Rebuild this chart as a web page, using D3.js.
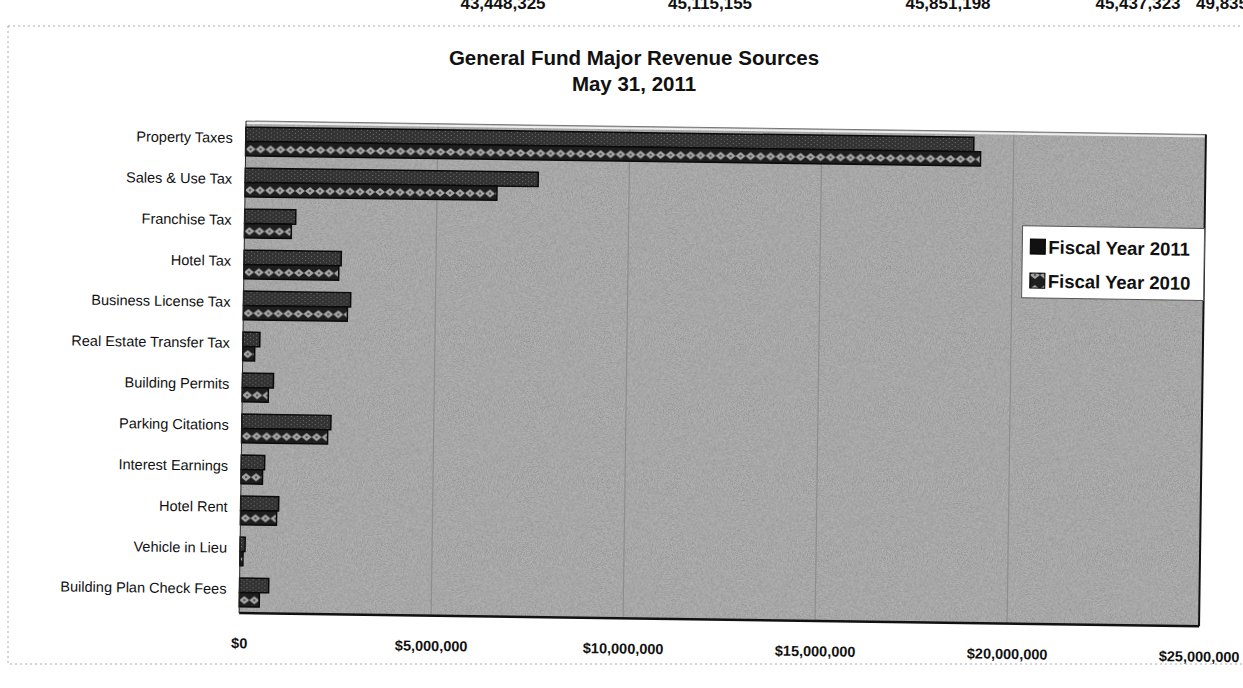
<!DOCTYPE html>
<html>
<head>
<meta charset="utf-8">
<script src="https://cdn.jsdelivr.net/npm/d3@7/dist/d3.min.js"></script>
<style>
  html, body { margin: 0; padding: 0; background: #fff; }
  svg { display: block; font-family: "Liberation Sans", Arial, sans-serif; }
</style>
</head>
<body>
<svg id="chart" width="1243" height="688"></svg>
<script>
// ---------- data ----------
const categories = [
  "Property Taxes", "Sales & Use Tax", "Franchise Tax", "Hotel Tax",
  "Business License Tax", "Real Estate Transfer Tax", "Building Permits",
  "Parking Citations", "Interest Earnings", "Hotel Rent", "Vehicle in Lieu",
  "Building Plan Check Fees"
];
const fy2011 = [18960000, 7630000, 1330000, 2530000, 2790000, 440000, 810000, 2320000, 610000, 990000, 130000, 760000];
const fy2010 = [19140000, 6560000, 1220000, 2470000, 2710000, 310000, 680000, 2240000, 560000, 940000, 80000, 520000];
const seriesNames = ["Fiscal Year 2011", "Fiscal Year 2010"];
const xTickValues = [0, 5000000, 10000000, 15000000, 20000000, 25000000];
const titleLines = ["General Fund Major Revenue Sources", "May 31, 2011"];
const topRowFragments = ["43,448,325", "45,115,155", "45,851,198", "45,437,323", "49,835"];

// ---------- layout ----------
const svg = d3.select("#chart");
const W = 1243, H = 688;
const plotW = 960, plotH = 492;
const skew = 0.8; // scan rotation (degrees)

const defs = svg.append("defs");

// background grain
const grain = defs.append("filter").attr("id", "grain").attr("x", 0).attr("y", 0).attr("width", 1).attr("height", 1);
grain.append("feTurbulence").attr("type", "fractalNoise").attr("baseFrequency", 1.2).attr("numOctaves", 1).attr("seed", 4).attr("result", "n");
grain.append("feColorMatrix").attr("in", "n").attr("type", "matrix")
  .attr("values", "0 0 0 0 0  0 0 0 0 0  0 0 0 0 0  0 0 0 1.2 -0.45");

// FY2011 fill: dark grainy
const p11 = defs.append("pattern").attr("id", "pat2011").attr("patternUnits", "userSpaceOnUse").attr("width", 6).attr("height", 4);
p11.append("rect").attr("width", 6).attr("height", 4).attr("fill", "#333");
p11.append("rect").attr("x", 1).attr("y", 1).attr("width", 1).attr("height", 1).attr("fill", "#777");
p11.append("rect").attr("x", 4).attr("y", 3).attr("width", 1).attr("height", 1).attr("fill", "#666");

// FY2010 fill: black with light diamonds
const p10 = defs.append("pattern").attr("id", "pat2010").attr("patternUnits", "userSpaceOnUse").attr("width", 10).attr("height", 14);
p10.append("rect").attr("width", 10).attr("height", 14).attr("fill", "#1e1e1e");
p10.append("path").attr("d", "M0,8 L5,4 L10,8 L5,12 Z").attr("fill", "#a8a8a8");
p10.append("circle").attr("cx", 5).attr("cy", 8).attr("r", 1.3).attr("fill", "#555");

svg.append("rect").attr("width", W).attr("height", H).attr("fill", "#fff");

// outer dotted frame of the pasted chart
svg.append("rect").attr("x", 8).attr("y", 26).attr("width", W + 20).attr("height", 638)
  .attr("fill", "none").attr("stroke", "#aaa").attr("stroke-width", 1).attr("stroke-dasharray", "2,3");

// clipped table row above the chart
const topX = [503, 710, 948, 1138, 1222];
svg.append("g").selectAll("text").data(topRowFragments).join("text")
  .attr("x", (d, i) => topX[i]).attr("y", 9)
  .attr("text-anchor", "middle").attr("font-size", 17).attr("font-weight", "bold").attr("fill", "#111")
  .text(d => d);

// title
svg.append("g").selectAll("text").data(titleLines).join("text")
  .attr("x", 634).attr("y", (d, i) => 65 + i * 26)
  .attr("text-anchor", "middle").attr("font-size", 20.5).attr("font-weight", "bold").attr("fill", "#111")
  .text(d => d);

// rotated plot group
const g = svg.append("g").attr("transform", `translate(246,121) rotate(${skew})`);

const x = d3.scaleLinear().domain([0, 25000000]).range([0, plotW]);
const y = d3.scaleBand().domain(categories).range([0, plotH]).paddingInner(0.3).paddingOuter(0.15);
const ySub = d3.scaleBand().domain(seriesNames).range([0, y.bandwidth()]);

// plot background
g.append("rect").attr("width", plotW).attr("height", plotH).attr("fill", "#b0b0b0");
g.append("rect").attr("width", plotW).attr("height", plotH).attr("fill", "#000").attr("filter", "url(#grain)").attr("opacity", 0.35);

// gridlines
g.append("g").selectAll("line").data(xTickValues.slice(1, -1)).join("line")
  .attr("x1", d => x(d)).attr("x2", d => x(d)).attr("y1", 0).attr("y2", plotH)
  .attr("stroke", "#8e8e8e").attr("stroke-width", 1.2);

// bars
const rows = categories.map((c, i) => ({ c, vals: [fy2011[i], fy2010[i]] }));
const fills = ["url(#pat2011)", "url(#pat2010)"];
const rowG = g.append("g").selectAll("g").data(rows).join("g")
  .attr("transform", d => `translate(0,${y(d.c)})`);
rowG.selectAll("rect").data(d => d.vals.map((v, k) => ({ v, k }))).join("rect")
  .attr("x", 0).attr("y", d => ySub(seriesNames[d.k]))
  .attr("width", d => x(d.v)).attr("height", ySub.bandwidth())
  .attr("fill", d => fills[d.k]).attr("stroke", "#0a0a0a").attr("stroke-width", 1.5);

// plot border: light top, dark right/bottom, black left
g.append("line").attr("x1", 0).attr("x2", plotW).attr("y1", 0).attr("y2", 0).attr("stroke", "#777").attr("stroke-width", 1);
g.append("line").attr("x1", 0).attr("x2", plotW).attr("y1", 2).attr("y2", 2).attr("stroke", "#eee").attr("stroke-width", 2);
g.append("line").attr("x1", plotW).attr("x2", plotW).attr("y1", 0).attr("y2", plotH).attr("stroke", "#111").attr("stroke-width", 2);
g.append("line").attr("x1", 0).attr("x2", plotW).attr("y1", plotH).attr("y2", plotH).attr("stroke", "#111").attr("stroke-width", 2.5);
g.append("line").attr("x1", 0).attr("x2", 0).attr("y1", 0).attr("y2", plotH).attr("stroke", "#222").attr("stroke-width", 1);

// y axis labels
const yAxis = d3.axisLeft(y).tickSize(0).tickPadding(13);
const yG = g.append("g").call(yAxis);
yG.select(".domain").remove();
yG.selectAll("text").attr("font-size", 14.5).attr("fill", "#111").attr("font-family", "Liberation Sans, Arial, sans-serif").attr("dy", "0.1em");

// x axis labels
const xAxis = d3.axisBottom(x).tickValues(xTickValues).tickSize(0).tickPadding(25)
  .tickFormat(d => "$" + d3.format(",")(d));
const xG = g.append("g").attr("transform", `translate(0,${plotH})`).call(xAxis);
xG.select(".domain").remove();
xG.selectAll("text").attr("font-size", 14.5).attr("font-weight", "bold").attr("fill", "#111").attr("font-family", "Liberation Sans, Arial, sans-serif");

// legend
const leg = g.append("g").attr("transform", "translate(778,94)");
leg.append("rect").attr("width", 182).attr("height", 72).attr("fill", "#fff").attr("stroke", "#555").attr("stroke-width", 1);
const li = leg.selectAll("g").data(seriesNames).join("g")
  .attr("transform", (d, i) => `translate(8,${21 + i * 34})`);
li.append("rect").attr("x", 0).attr("y", -8).attr("width", 15).attr("height", 15)
  .attr("fill", (d, i) => i === 0 ? "#111" : "url(#pat2010)").attr("stroke", "#000");
li.append("text").attr("x", 18).attr("y", 0).attr("dy", "0.35em")
  .attr("font-size", 18.5).attr("font-weight", "bold").attr("fill", "#111").text(d => d);
</script>
</body>
</html>
